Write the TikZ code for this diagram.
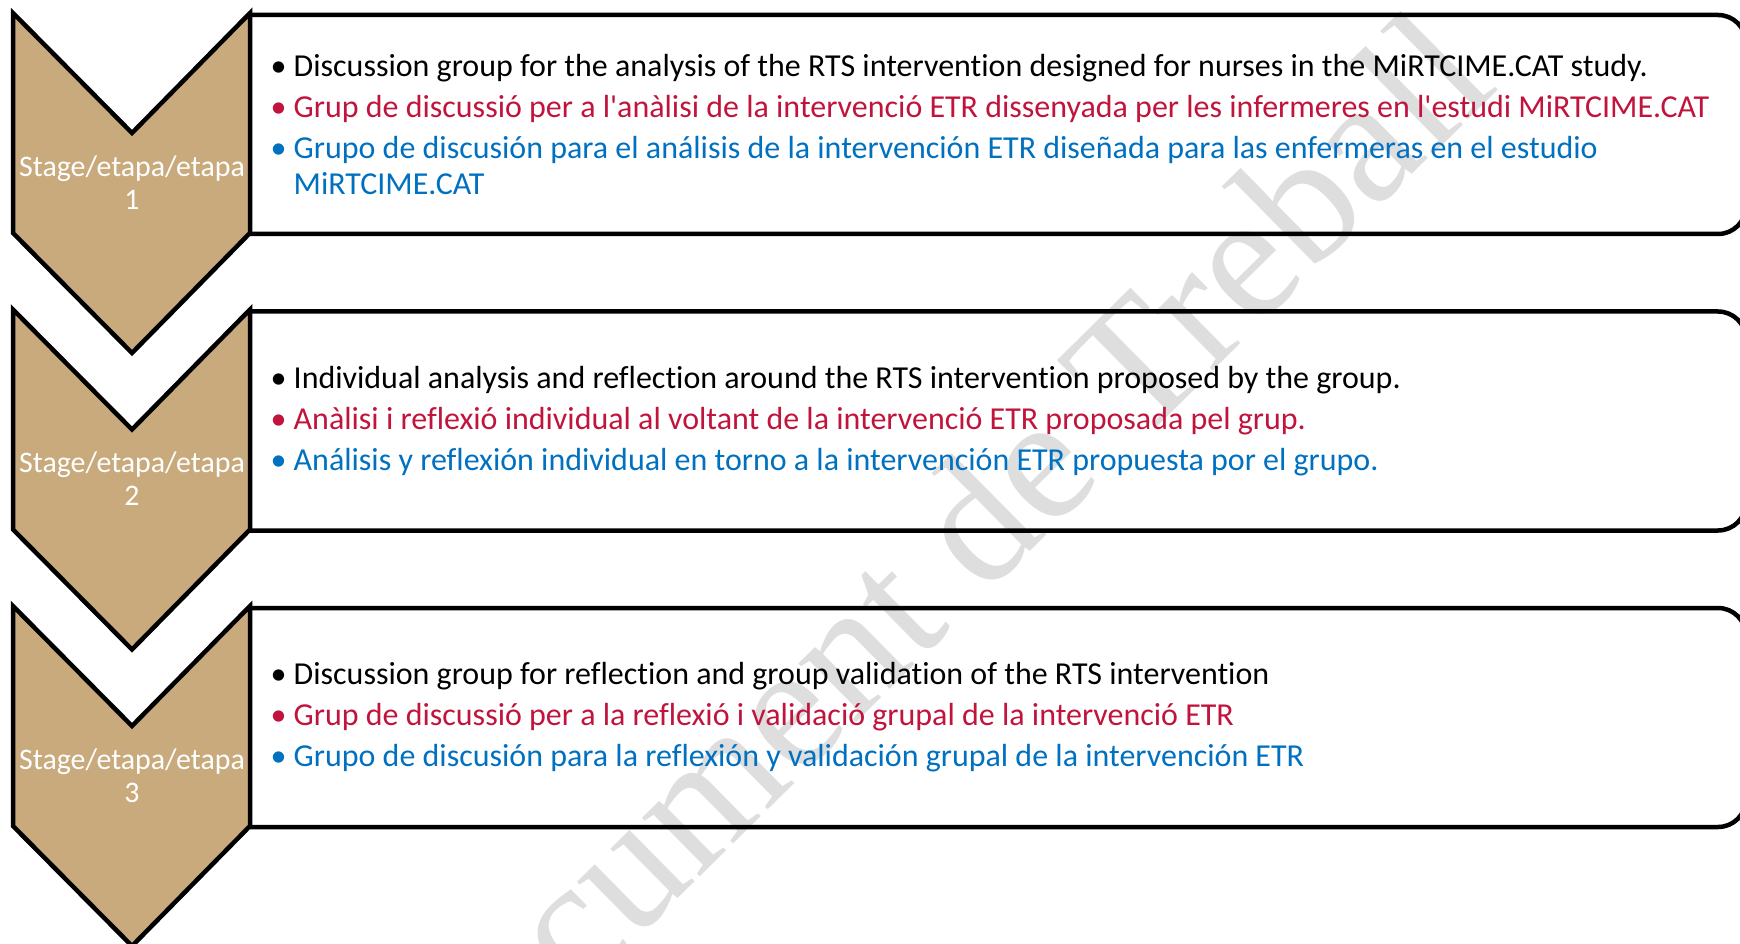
\documentclass[tikz,border=0pt]{standalone}
\usepackage{fontspec}
\setmainfont{Carlito}[Ligatures=NoCommon]
\newfontfamily\wmfont{Liberation Serif}
\usepackage{xcolor}
\definecolor{stagetan}{RGB}{200,170,125}
\definecolor{catred}{RGB}{192,20,60}
\definecolor{esblue}{RGB}{0,112,192}

\tikzset{
  chevron/.style={fill=stagetan,draw=black,line width=0.45mm,line join=miter},
  stagebox/.style={draw=black,line width=0.45mm,rounded corners=2.8mm},
  stagelabel/.style={text=white,align=center,inner sep=0pt,font=\fontsize{8.5}{9.4}\selectfont},
  itemlist/.style={anchor=west,align=left,inner sep=0pt,font=\fontsize{9.1}{10.1}\selectfont},
}
\newcommand{\bul}[2]{\textcolor{#1}{\makebox[2.3mm][l]{•}#2}}

\begin{document}
\begin{tikzpicture}[x=0.1mm,y=-0.1mm]
            \useasboundingbox (0,0) rectangle (1740,944);

            \node[rotate=44.6,text=black!13,font=\wmfont\fontsize{51}{51}\selectfont] (watermark) at (918,576) {Document de Treball};

            \draw[stagebox] (250,15) -- (1746,15) -- (1746,234) -- (250,234);
            \draw[stagebox] (250,311.5) -- (1746,311.5) -- (1746,530.5) -- (250,530.5);
            \draw[stagebox] (250,608) -- (1746,608) -- (1746,827) -- (250,827);

            \draw[chevron] (13,13) -- (132,133) -- (250,13) -- (250,233) -- (132,353) -- (13,233) -- cycle;
            \draw[chevron] (13,309.5) -- (132,429.5) -- (250,309.5) -- (250,529.5) -- (132,649.5) -- (13,529.5) -- cycle;
            \draw[chevron] (13,606) -- (132,726) -- (250,606) -- (250,826) -- (132,946) -- (13,826) -- cycle;

            \node[stagelabel] (stage1) at (132,182.5) {Stage/etapa/etapa\\1};
            \node[stagelabel] (stage2) at (132,479) {Stage/etapa/etapa\\2};
            \node[stagelabel] (stage3) at (132,775.5) {Stage/etapa/etapa\\3};

            \node[itemlist] (items1) at (270,124.5) {\bul{black}{Discussion group for the analysis of the RTS intervention designed for nurses in the MiRTCIME.CAT study.}\\[1.57pt]
              \bul{catred}{Grup de discussió per a l\textquotesingle anàlisi de la intervenció ETR dissenyada per les infermeres en l\textquotesingle estudi MiRTCIME.CAT}\\[1.57pt]
              \bul{esblue}{Grupo de discusión para el análisis de la intervención ETR diseñada para las enfermeras en el estudio}\\
              \hspace*{2.3mm}\textcolor{esblue}{MiRTCIME.CAT}};
            \node[itemlist] (items2) at (270,421) {\bul{black}{Individual analysis and reflection around the RTS intervention proposed by the group.}\\[1.57pt]
              \bul{catred}{Anàlisi i reflexió individual al voltant de la intervenció ETR proposada pel grup.}\\[1.57pt]
              \bul{esblue}{Análisis y reflexión individual en torno a la intervención ETR propuesta por el grupo.}};
            \node[itemlist] (items3) at (270,717.5) {\bul{black}{Discussion group for reflection and group validation of the RTS intervention}\\[1.57pt]
              \bul{catred}{Grup de discussió per a la reflexió i validació grupal de la intervenció ETR}\\[1.57pt]
              \bul{esblue}{Grupo de discusión para la reflexión y validación grupal de la intervención ETR}};
        \end{tikzpicture}
\end{document}
